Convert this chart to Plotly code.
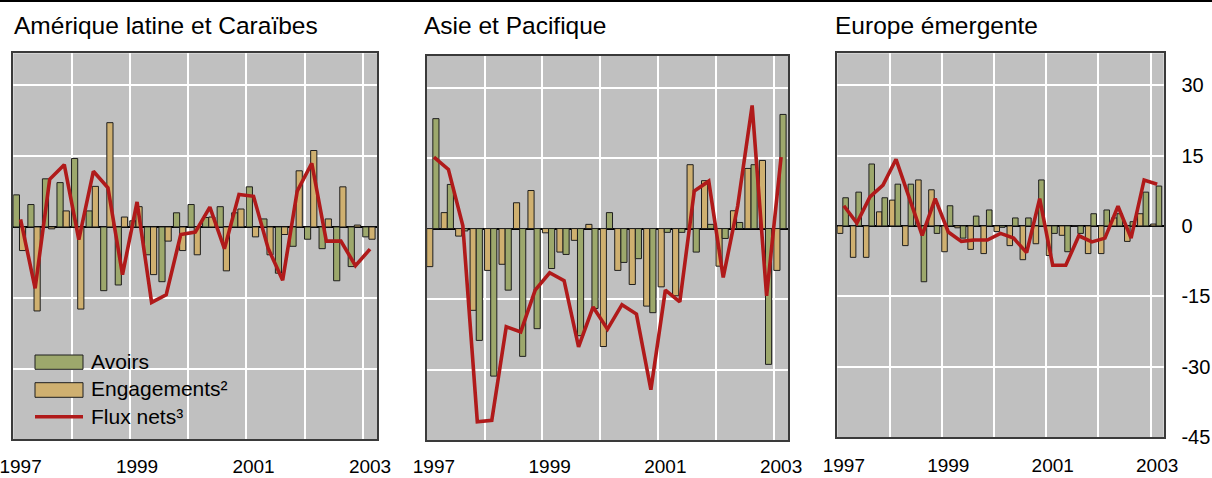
import plotly.graph_objects as go

# ---------------- data ----------------
quarters = [f"{y}-T{q}" for y in range(1997, 2004) for q in range(1, 5)][:25]
year_ticks = ["1997", "1999", "2001", "2003"]
y_ticks = [-45, -30, -15, 0, 15, 30]
y_tick_text = ["-45", "-30", "-15", "0", "15", "30"]

lat_avoirs = [6.8, 4.75, 10.2, 9.4, 14.5, 3.4, -13.5, -12.3, 1.3, -5.9, -11.6, 3.0, 4.75,
              2.0, 4.3, 3.0, 8.5, 1.7, -9.8, -4.1, -2.6, -4.6, -11.4, -8.4, -2.1]
lat_engagements = [-5.0, -17.8, -0.4, 3.4, -17.4, 8.6, 22.1, 2.1, 4.3, -10.1, -3.0, -5.0, -5.9,
                   2.1, -9.3, 3.8, -2.1, -5.9, -1.6, 11.9, 16.2, 1.7, 8.5, 0.4, -2.6]
lat_flux = [1.6, -13.0, 10.1, 13.2, -2.7, 11.8, 8.3, -10.1, 5.3, -16.0, -14.4, -1.6, -1.1,
            4.2, -4.6, 6.9, 6.5, -4.5, -11.3, 7.6, 13.5, -3.0, -3.0, -8.2, -4.7]

asia_avoirs = [23.4, 9.4, -0.5, -23.8, -31.4, -13.1, -27.2, -21.3, -8.5, -5.5, -22.8, -17.0, 3.4,
               -7.2, -6.4, -17.9, -0.8, -0.8, -5.0, 0.9, -2.1, 1.3, 13.6, -28.9, 24.3]
asia_engagements = [-8.1, 3.4, -1.6, -17.4, -8.9, -7.6, 5.5, 8.1, -0.9, -5.0, -2.5, 0.9, -25.1,
                    -8.9, -11.9, -16.5, -12.4, -14.3, 13.6, 10.2, -8.0, 3.8, 12.8, 14.5, -8.9]
asia_flux = [15.2, 12.6, 0.6, -41.1, -40.8, -20.9, -22.0, -13.1, -9.4, -11.1, -25.2, -16.7, -21.4,
             -16.2, -18.2, -34.3, -13.1, -15.6, 8.0, 10.1, -10.4, 4.8, 26.2, -14.3, 15.2]

eur_avoirs = [6.0, 7.2, 13.2, 6.0, 8.9, 8.9, -11.9, -1.6, 4.3, -2.6, 2.1, 3.4, -0.3,
              1.7, 1.7, 9.8, -1.6, -5.5, -1.6, 2.6, 3.4, 2.6, 0.9, 7.2, 8.5]
eur_engagements = [-1.6, -6.7, -6.7, 3.0, 5.5, -4.2, 9.8, 7.7, -5.5, -0.4, -5.0, -5.9, -1.2,
                   -4.2, -7.2, -3.8, -6.3, -2.0, 0.0, -5.9, -5.9, 1.7, -3.3, 2.6, 0.4]
eur_flux = [4.3, 0.6, 6.2, 8.7, 14.2, 5.8, -2.0, 5.8, -1.3, -3.3, -3.0, -3.0, -1.6,
            -2.6, -5.7, 5.8, -8.4, -8.4, -2.1, -3.4, -2.6, 4.2, -2.6, 9.8, 8.9]

titles = ["Amérique latine et Caraïbes", "Asie et Pacifique", "Europe émergente"]
legend_labels = ["Avoirs", "Engagements²", "Flux nets³"]

# ---------------- style ----------------
W, H = 1212, 478
FONT = "Liberation Sans, Arial, sans-serif"
BG = "#C0C0C0"
GREEN = "#9DA86C"
TAN = "#CFB070"
RED = "#B01A1A"
BAR_W = 0.106

def qx(label):
    y, q = label.split("-T")
    return int(y) + (int(q) - 1) * 0.25 + 0.125

x = [qx(q) for q in quarters]
tick_pos = [int(t) + 0.125 for t in year_ticks]
grid_years = list(range(1998, 2004))

def px_x(p):
    return p / W

def px_y(p):
    return 1 - p / H

# panel geometry (pixels)
panels = [
    dict(x0=13.3, x1=377.3, top=53.3, bottom=439.3, ticklen=9),
    dict(x0=426.7, x1=788.3, top=55.7, bottom=440.0, ticklen=8),
    dict(x0=837.3, x1=1163.7, top=53.3, bottom=437.0, ticklen=10),
]

series = [
    (lat_avoirs, lat_engagements, lat_flux, "green_first"),
    (asia_avoirs, asia_engagements, asia_flux, "tan_first"),
    (eur_avoirs, eur_engagements, eur_flux, "tan_first"),
]

fig = go.Figure()

for i, (av, en, fl, order) in enumerate(series):
    xa = "x" if i == 0 else f"x{i+1}"
    ya = "y" if i == 0 else f"y{i+1}"
    first, second = (av, GREEN), (en, TAN)
    if order == "tan_first":
        first, second = second, first
    for (vals, col), off in ((first, -0.125), (second, -0.125 + BAR_W)):
        fig.add_trace(go.Bar(
            x=x, y=vals, xaxis=xa, yaxis=ya, offset=off, width=BAR_W,
            marker=dict(color=col, line=dict(color="#1e1e1e", width=1)),
            showlegend=False, hoverinfo="skip"))
    fig.add_trace(go.Scatter(
        x=x, y=fl, xaxis=xa, yaxis=ya, mode="lines",
        line=dict(color=RED, width=3.6), showlegend=False, hoverinfo="skip"))

layout = dict(
    width=W, height=H, margin=dict(l=0, r=0, t=0, b=0, autoexpand=False),
    paper_bgcolor="white", plot_bgcolor=BG, barmode="overlay",
    font=dict(family=FONT, size=20, color="black"),
    showlegend=False,
)

for i, p in enumerate(panels):
    xk = "xaxis" if i == 0 else f"xaxis{i+1}"
    yk = "yaxis" if i == 0 else f"yaxis{i+1}"
    ya = "y" if i == 0 else f"y{i+1}"
    xa = "x" if i == 0 else f"x{i+1}"
    layout[xk] = dict(
        domain=[px_x(p["x0"]), px_x(p["x1"])], anchor=ya, range=[1997, 2003.25],
        tickmode="array", tickvals=tick_pos, ticktext=year_ticks,
        ticks="outside", ticklen=p["ticklen"], tickcolor="rgba(0,0,0,0)",
        ticklabeloverflow="allow",
        showgrid=False, zeroline=False, automargin=False,
        showline=True, mirror=True, linecolor="#3a3a3a", linewidth=1.5,
        tickfont=dict(size=19),
        minor=dict(tickmode="array", tickvals=grid_years, showgrid=True,
                   gridcolor="white", gridwidth=1.5, ticks=""),
        fixedrange=True,
    )
    layout[yk] = dict(
        domain=[px_y(p["bottom"]), px_y(p["top"])], anchor=xa, range=[-45, 36.8],
        tickmode="array", tickvals=y_ticks, ticktext=y_tick_text, automargin=False,
        ticklabeloverflow="allow",
        showgrid=True, gridcolor="white", gridwidth=1.5,
        zeroline=True, zerolinecolor="black", zerolinewidth=1.6,
        showline=True, mirror=True, linecolor="#3a3a3a", linewidth=1.5,
        showticklabels=(i == 2), side="right" if i == 2 else "left",
        ticks="outside" if i == 2 else "", ticklen=12, tickcolor="rgba(0,0,0,0)",
        tickfont=dict(size=20), fixedrange=True,
    )

fig.update_layout(**layout)

# titles
title_x = [11.7, 422.3, 833.3]
for t, tx in zip(titles, title_x):
    fig.add_annotation(text=t, x=px_x(tx), y=px_y(26), xref="paper", yref="paper",
                       xanchor="left", yanchor="middle", showarrow=False,
                       font=dict(size=24.5, family=FONT, color="black"))

shapes = []
# top rule
shapes.append(dict(type="rect", xref="paper", yref="paper", x0=0, x1=1,
                   y0=px_y(2), y1=1, fillcolor="black", line=dict(width=0)))
# legend background
shapes.append(dict(type="rect", xref="paper", yref="paper", layer="between",
                   x0=px_x(18), x1=px_x(235), y0=px_y(424), y1=px_y(328),
                   fillcolor=BG, line=dict(width=0)))
# legend swatches
for col, (t, b) in ((GREEN, (355, 369.3)), (TAN, (382.7, 397.3))):
    shapes.append(dict(type="rect", xref="paper", yref="paper",
                       x0=px_x(35), x1=px_x(83), y0=px_y(b), y1=px_y(t),
                       fillcolor=col, line=dict(color="#1e1e1e", width=1)))
shapes.append(dict(type="line", xref="paper", yref="paper",
                   x0=px_x(35), x1=px_x(83), y0=px_y(416.7), y1=px_y(416.7),
                   line=dict(color=RED, width=3.6)))
fig.update_layout(shapes=shapes)

for lab, cy in zip(legend_labels, (361, 388, 416)):
    fig.add_annotation(text=lab, x=px_x(89), y=px_y(cy), xref="paper", yref="paper",
                       xanchor="left", yanchor="middle", showarrow=False,
                       font=dict(size=21, family=FONT, color="black"))

fig.write_html(
    "out.html",
    config={"displayModeBar": False},
    post_script="document.body.style.margin='0';document.body.style.overflow='hidden';",
)
